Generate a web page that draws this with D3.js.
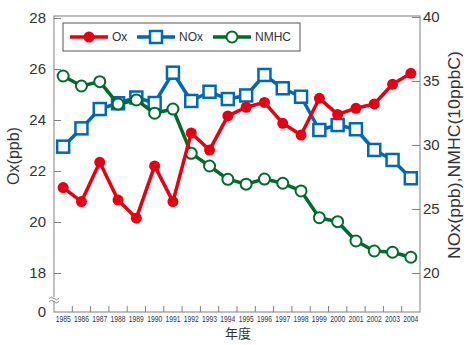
<!DOCTYPE html>
<html>
<head>
<meta charset="utf-8">
<script src="https://cdn.jsdelivr.net/npm/d3@7"></script>
<style>
  body { margin: 0; background: #fff; }
  svg { display: block; font-family: "Liberation Sans", Arial, sans-serif; }
</style>
</head>
<body>
<div id="chart"></div>
<script>
// Data
const years = ['1985','1986','1987','1988','1989','1990','1991','1992','1993','1994',
               '1995','1996','1997','1998','1999','2000','2001','2002','2003','2004'];
const oxValues   = [21.35, 20.80, 22.34, 20.86, 20.15, 22.20, 20.80, 23.49, 22.82, 24.16,
                    24.50, 24.69, 23.87, 23.41, 24.85, 24.22, 24.46, 24.63, 25.40, 25.83];
const noxValues  = [29.87, 31.30, 32.81, 33.26, 33.71, 33.28, 35.65, 33.44, 34.16, 33.59,
                    33.87, 35.47, 34.43, 33.77, 31.17, 31.56, 31.23, 29.61, 28.83, 27.40];
const nmhcValues = [35.39, 34.61, 34.95, 33.20, 33.52, 32.48, 32.81, 29.35, 28.36, 27.32,
                    26.94, 27.34, 27.01, 26.41, 24.32, 24.01, 22.50, 21.72, 21.62, 21.23];
const leftTicks  = [0, 18, 20, 22, 24, 26, 28];
const rightTicks = [20, 25, 30, 35, 40];

const width = 470, height = 345;
const plotLeft = 54, plotRight = 420, plotTop = 16, plotBottom = 312;

const red = '#e60012', blue = '#0068b7', green = '#006b2d';
const axisGray = '#808080', textColor = '#333';

const svg = d3.select('#chart').append('svg')
  .attr('width', width).attr('height', height);

// Scales
const x = d3.scaleBand().domain(years).range([plotLeft, plotRight]);
const yLeft = d3.scaleLinear().domain([0, 18, 28]).range([plotBottom, 273, 18]);
const yRight = d3.scaleLinear().domain([20, 40]).range([273, 17]);

// Frame
svg.append('rect')
  .attr('x', plotLeft).attr('y', plotTop)
  .attr('width', plotRight - plotLeft).attr('height', plotBottom - plotTop)
  .attr('fill', 'none').attr('stroke', axisGray).attr('stroke-width', 1);

// Left axis ticks (inward) + labels
const gl = svg.append('g').attr('transform', `translate(${plotLeft},0)`)
  .call(d3.axisRight(yLeft).tickValues(leftTicks).tickSize(7).tickFormat(''));
gl.select('.domain').remove();
gl.selectAll('.tick line').attr('stroke', axisGray);
gl.selectAll('.tick').filter(d => d === 0).select('line').remove();
svg.append('g').selectAll('text').data(leftTicks).enter().append('text')
  .attr('x', plotLeft - 8).attr('y', d => yLeft(d)).attr('dy', '0.36em')
  .attr('text-anchor', 'end').attr('font-size', 15).attr('fill', textColor)
  .text(d => d);

// Right axis ticks (inward) + labels
const gr = svg.append('g').attr('transform', `translate(${plotRight},0)`)
  .call(d3.axisLeft(yRight).tickValues(rightTicks).tickSize(8).tickFormat(''));
gr.select('.domain').remove();
gr.selectAll('.tick line').attr('stroke', axisGray);
svg.append('g').selectAll('text').data(rightTicks).enter().append('text')
  .attr('x', plotRight + 3).attr('y', d => yRight(d)).attr('dy', '0.36em')
  .attr('text-anchor', 'start').attr('font-size', 15).attr('fill', textColor)
  .text(d => d);

// Bottom axis: ticks at band edges, labels at band centres
const edges = years.slice(1);
svg.append('g').selectAll('line').data(edges).enter().append('line')
  .attr('x1', d => x(d)).attr('x2', d => x(d))
  .attr('y1', plotBottom).attr('y2', plotBottom - 6)
  .attr('stroke', axisGray);
const gx = svg.append('g').attr('transform', `translate(0,${plotBottom})`)
  .call(d3.axisBottom(x).tickSize(0).tickPadding(4));
gx.select('.domain').remove();
gx.selectAll('text')
  .attr('font-family', '"Liberation Sans Narrow", "Liberation Sans", Arial, sans-serif')
  .attr('font-size', 8.5).attr('fill', '#2b3550')
  .attr('textLength', 15).attr('lengthAdjust', 'spacingAndGlyphs');

// Axis break marker
svg.append('rect').attr('x', plotLeft - 3).attr('y', 297).attr('width', 6).attr('height', 4).attr('fill', '#fff');
[297.5, 300.5].forEach(yy => {
  svg.append('path')
    .attr('d', `M${plotLeft - 5},${yy + 1} q2.5,-2.5 5,0 t5,0`)
    .attr('fill', 'none').attr('stroke', axisGray).attr('stroke-width', 0.9);
});

// Axis titles
svg.append('text')
  .attr('transform', `translate(19,156) rotate(-90)`)
  .attr('text-anchor', 'middle').attr('font-size', 16).attr('fill', textColor)
  .text('Ox(ppb)');
svg.append('text')
  .attr('transform', `translate(460,155) rotate(-90)`)
  .attr('text-anchor', 'middle').attr('font-size', 16).attr('fill', textColor)
  .attr('textLength', 208).attr('lengthAdjust', 'spacingAndGlyphs')
  .text('NOx(ppb),NMHC(10ppbC)');
svg.append('text')
  .attr('x', 238).attr('y', 338)
  .attr('text-anchor', 'middle').attr('font-size', 13).attr('fill', textColor)
  .attr('font-family', '"Noto Sans CJK JP", sans-serif')
  .text('年度');

const cx = d => x(d) + x.bandwidth() / 2;

function drawSeries(values, scale, color) {
  const pts = years.map((yr, i) => ({ yr, v: values[i] }));
  svg.append('path').datum(pts)
    .attr('fill', 'none').attr('stroke', color).attr('stroke-width', 3.5)
    .attr('stroke-linejoin', 'round')
    .attr('d', d3.line().x(d => cx(d.yr)).y(d => scale(d.v)));
  return pts;
}

// NOx
const noxPts = drawSeries(noxValues, yRight, blue);
svg.append('g').selectAll('rect').data(noxPts).enter().append('rect')
  .attr('x', d => cx(d.yr) - 6).attr('y', d => yRight(d.v) - 6)
  .attr('width', 12).attr('height', 12)
  .attr('fill', '#fff').attr('stroke', blue).attr('stroke-width', 2.5);

// NMHC
const nmhcPts = drawSeries(nmhcValues, yRight, green);
svg.append('g').selectAll('circle').data(nmhcPts).enter().append('circle')
  .attr('cx', d => cx(d.yr)).attr('cy', d => yRight(d.v)).attr('r', 5.5)
  .attr('fill', '#fff').attr('stroke', green).attr('stroke-width', 2);

// Ox
const oxPts = drawSeries(oxValues, yLeft, red);
svg.append('g').selectAll('circle').data(oxPts).enter().append('circle')
  .attr('cx', d => cx(d.yr)).attr('cy', d => yLeft(d.v)).attr('r', 5.5)
  .attr('fill', red);

// Legend
const legend = svg.append('g');
legend.append('rect')
  .attr('x', 63).attr('y', 23).attr('width', 237).attr('height', 28)
  .attr('fill', '#fff').attr('stroke', '#555').attr('stroke-width', 1);
const items = [
  { name: 'Ox', color: red, x0: 70, shape: 'dot' },
  { name: 'NOx', color: blue, x0: 137, shape: 'square' },
  { name: 'NMHC', color: green, x0: 213, shape: 'ring' }
];
items.forEach(it => {
  const ly = 37;
  legend.append('line')
    .attr('x1', it.x0).attr('x2', it.x0 + 38).attr('y1', ly).attr('y2', ly)
    .attr('stroke', it.color).attr('stroke-width', 3.5);
  const mx = it.x0 + 19;
  if (it.shape === 'dot') {
    legend.append('circle').attr('cx', mx).attr('cy', ly).attr('r', 5.5).attr('fill', it.color);
  } else if (it.shape === 'square') {
    legend.append('rect').attr('x', mx - 6).attr('y', ly - 6).attr('width', 12).attr('height', 12)
      .attr('fill', '#fff').attr('stroke', it.color).attr('stroke-width', 2.5);
  } else {
    legend.append('circle').attr('cx', mx).attr('cy', ly).attr('r', 5.5)
      .attr('fill', '#fff').attr('stroke', it.color).attr('stroke-width', 2);
  }
  legend.append('text')
    .attr('x', it.x0 + 42).attr('y', ly).attr('dy', '0.36em')
    .attr('font-size', 12).attr('fill', textColor)
    .text(it.name);
});
</script>
</body>
</html>
